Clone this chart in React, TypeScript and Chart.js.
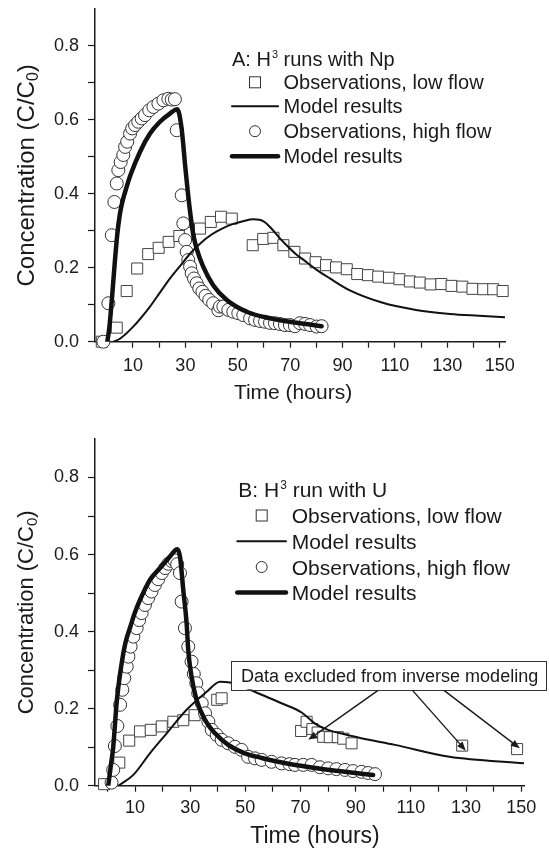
import React, { useEffect, useRef } from "react";
import { Chart, registerables } from "chart.js";

Chart.register(...registerables);

const FONT = '"Liberation Sans", Arial, Helvetica, sans-serif';
const INK = "#1a1a1a";

// ---------- shared ticks / labels ----------
const X_TICKS = [0, 10, 20, 30, 40, 50, 60, 70, 80, 90, 100, 110, 120, 130, 140, 150];
const X_LABELED = [10, 30, 50, 70, 90, 110, 130, 150];
const Y_TICKS = [0, 0.1, 0.2, 0.3, 0.4, 0.5, 0.6, 0.7, 0.8];
const Y_LABELED = [0, 0.2, 0.4, 0.6, 0.8];
const LEGEND_LABELS = ["Observations, low flow", "Model results", "Observations, high flow", "Model results"];
const X_TITLE = "Time (hours)";
const Y_TITLE_MAIN = "Concentration (C/C";
const Y_TITLE_SUB = "0";
const Y_TITLE_END = ")";

// ---------- panel A: H3 runs with Np ----------
const A_TITLE = ["A: H", "3", " runs with Np"];
const A_LOW_OBS_X = [-1.9, 3.8, 7.6, 11.6, 15.8, 19.8, 23.6, 27.7, 31.7, 35.6, 39.7, 43.6, 47.7, 55.7, 59.7, 63.6, 67.4, 71.6, 75.7, 79.7, 83.7, 87.5, 91.6, 95.6, 99.7, 103.6, 107.7, 111.7, 115.7, 119.5, 123.6, 127.7, 131.6, 135.7, 139.6, 143.7, 147.5, 151.1];
const A_LOW_OBS_Y = [0.0, 0.038, 0.137, 0.198, 0.237, 0.254, 0.27, 0.286, 0.295, 0.306, 0.324, 0.338, 0.333, 0.261, 0.278, 0.281, 0.261, 0.243, 0.225, 0.215, 0.207, 0.201, 0.196, 0.183, 0.18, 0.176, 0.173, 0.169, 0.163, 0.16, 0.155, 0.156, 0.151, 0.149, 0.143, 0.142, 0.142, 0.137];
const A_LOW_MOD_X = [2.5, 5, 10, 16.5, 20, 24, 28, 32, 36, 40, 44, 48, 52, 56, 60, 63, 66, 69, 72, 75, 80, 85, 93, 105, 118, 131, 142, 152];
const A_LOW_MOD_Y = [0, 0.008, 0.04, 0.095, 0.13, 0.17, 0.205, 0.24, 0.268, 0.29, 0.306, 0.318, 0.326, 0.331, 0.325, 0.305, 0.28, 0.258, 0.238, 0.222, 0.195, 0.172, 0.138, 0.106, 0.086, 0.075, 0.07, 0.066];
const A_HIGH_OBS_X = [-1.3, 0.6, 1.9, 2.9, 3.8, 4.4, 5.3, 6.3, 7.0, 7.8, 8.9, 9.7, 10.8, 12.0, 13.3, 14.6, 16.2, 17.8, 19.7, 21.6, 23.5, 24.8, 26.0, 26.7, 28.6, 29.2, 29.9, 30.5, 31.1, 31.8, 32.4, 33.3, 34.3, 35.3, 36.5, 37.7, 39.1, 40.6, 42.6, 43.2, 44.5, 46.4, 48.3, 50.2, 52.1, 54.7, 56.6, 58.5, 60.4, 62.3, 64.2, 66.1, 68.0, 69.9, 71.8, 73.7, 75.7, 77.6, 80.1, 82.0];
const A_HIGH_OBS_Y = [0, 0.104, 0.288, 0.378, 0.428, 0.464, 0.486, 0.505, 0.527, 0.541, 0.563, 0.577, 0.586, 0.595, 0.604, 0.613, 0.626, 0.635, 0.644, 0.653, 0.657, 0.655, 0.656, 0.572, 0.396, 0.32, 0.275, 0.243, 0.221, 0.203, 0.185, 0.171, 0.158, 0.144, 0.135, 0.124, 0.113, 0.104, 0.085, 0.095, 0.095, 0.086, 0.081, 0.077, 0.072, 0.063, 0.059, 0.056, 0.054, 0.051, 0.05, 0.048, 0.045, 0.045, 0.042, 0.05, 0.048, 0.045, 0.041, 0.042];
const A_HIGH_MOD_X = [0.2, 1, 2, 3, 4, 5, 6, 7, 9, 12.7, 16.5, 20.3, 24.1, 26.9, 28.5, 30, 31, 32, 33, 34.3, 36.8, 40.6, 45.8, 53.4, 62.3, 72.5, 82];
const A_HIGH_MOD_Y = [0, 0.04, 0.12, 0.21, 0.29, 0.345, 0.38, 0.405, 0.45, 0.514, 0.563, 0.595, 0.617, 0.629, 0.58, 0.47, 0.4, 0.34, 0.29, 0.252, 0.203, 0.153, 0.113, 0.081, 0.063, 0.051, 0.042];

// ---------- panel B: H3 run with U ----------
const B_TITLE = ["B: H", "3", " run with U"];
const B_LOW_OBS_X = [-1.2, 4.3, 7.9, 11.8, 15.7, 19.7, 23.9, 27.5, 31.6, 39.8, 41.4, 70.2, 72.2, 74.3, 76.2, 78.2, 80.6, 83.5, 85.5, 88.5, 128.6, 148.5];
const B_LOW_OBS_Y = [0.004, 0.06, 0.117, 0.141, 0.145, 0.154, 0.166, 0.17, 0.183, 0.223, 0.227, 0.142, 0.166, 0.147, 0.138, 0.127, 0.126, 0.126, 0.122, 0.11, 0.104, 0.095];
const B_LOW_MOD_X = [4, 9.4, 15.4, 21.5, 28.7, 36, 40.8, 44.4, 51.7, 55.9, 63.1, 70.4, 75.5, 80, 88, 92, 104.2, 124, 151];
const B_LOW_MOD_Y = [0, 0.028, 0.084, 0.136, 0.197, 0.244, 0.27, 0.268, 0.249, 0.236, 0.214, 0.19, 0.16, 0.145, 0.13, 0.123, 0.106, 0.075, 0.058];
const B_HIGH_OBS_X = [1.5, 2.1, 2.7, 3.6, 4.6, 5.4, 6.1, 7.0, 7.6, 8.4, 9.4, 10.6, 11.5, 12.4, 13.6, 14.8, 16.0, 17.2, 18.4, 19.7, 20.9, 22.1, 23.3, 24.3, 25.3, 26.3, 26.9, 28.1, 29.3, 30.5, 31.3, 32.2, 32.9, 34.2, 35.4, 36.6, 37.8, 39.6, 41.4, 43.8, 46.2, 48.6, 51.0, 53.5, 55.9, 59.5, 63.1, 66.0, 68.0, 71.0, 74.0, 77.0, 80.0, 83.0, 86.1, 89.0, 92.1, 94.5, 97.0];
const B_HIGH_OBS_Y = [0.008, 0.041, 0.103, 0.155, 0.21, 0.249, 0.279, 0.309, 0.335, 0.361, 0.387, 0.409, 0.43, 0.448, 0.469, 0.487, 0.504, 0.521, 0.536, 0.552, 0.565, 0.576, 0.583, 0.585, 0.575, 0.552, 0.478, 0.409, 0.361, 0.322, 0.29, 0.266, 0.24, 0.214, 0.188, 0.166, 0.145, 0.132, 0.119, 0.11, 0.101, 0.093, 0.075, 0.071, 0.067, 0.062, 0.058, 0.056, 0.054, 0.054, 0.054, 0.048, 0.045, 0.043, 0.041, 0.038, 0.036, 0.033, 0.03];
const B_HIGH_MOD_X = [0.3, 1.2, 2.1, 3.4, 5, 6.5, 8.2, 10, 11.8, 15.4, 19.1, 22.7, 25.3, 26.3, 27.5, 28.7, 29.3, 30.5, 32.3, 35.4, 39, 43.8, 49.8, 55.9, 61.9, 74, 86.1, 96.3];
const B_HIGH_MOD_Y = [0, 0.05, 0.1, 0.22, 0.31, 0.37, 0.41, 0.45, 0.482, 0.534, 0.565, 0.595, 0.614, 0.595, 0.508, 0.422, 0.352, 0.283, 0.223, 0.171, 0.136, 0.106, 0.084, 0.072, 0.062, 0.047, 0.036, 0.028];

// annotation (panel B), in data units
const B_NOTE_TEXT = "Data excluded from inverse modeling";
const B_NOTE_BOX = { x0: 44.8, x1: 158.9, y0: 0.25, y1: 0.324 };
const B_ARROW_FROM_X = [98.1, 110.6, 122.0];
const B_ARROW_TO_X = [72.8, 129.9, 149.5];
const B_ARROW_TO_Y = [0.119, 0.091, 0.097];

const pts = (xs: number[], ys: number[]) => xs.map((x, i) => ({ x, y: ys[i] }));

type Spec = {
  height: number;
  padTop: number;
  padRight: number;
  xAxisHeight: number;
  xMin: number;
  xMax: number;
  xTickPad: number;
  xTitle: { x: number; y: number; size: number };
  yTitle: { x: number; size: number };
  legend: {
    title: string[];
    size: number;
    titleX: number;
    titleY: number;
    rowsY: number[];
    markerX: number;
    lineX0: number;
    lineX1: number;
    textX: number;
  };
  lowObs: { x: number; y: number }[];
  lowMod: { x: number; y: number }[];
  highObs: { x: number; y: number }[];
  highMod: { x: number; y: number }[];
  note?: boolean;
};

const SPEC_A: Spec = {
  height: 415,
  padTop: 9,
  padRight: 44,
  xAxisHeight: 415 - 341.7,
  xMin: -4.5,
  xMax: 152,
  xTickPad: 8,
  xTitle: { x: 293, y: 393, size: 21 },
  yTitle: { x: 34, size: 24 },
  legend: {
    title: A_TITLE,
    size: 20,
    titleX: 232,
    titleY: 58.5,
    rowsY: [82.3, 106.3, 131.2, 156.3],
    markerX: 255,
    lineX0: 232,
    lineX1: 278,
    textX: 283.5,
  },
  lowObs: pts(A_LOW_OBS_X, A_LOW_OBS_Y),
  lowMod: pts(A_LOW_MOD_X, A_LOW_MOD_Y),
  highObs: pts(A_HIGH_OBS_X, A_HIGH_OBS_Y),
  highMod: pts(A_HIGH_MOD_X, A_HIGH_MOD_Y),
};

const SPEC_B: Spec = {
  height: 437,
  padTop: 24,
  padRight: 25,
  xAxisHeight: 437 - (785.7 - 415),
  xMin: -4.5,
  xMax: 151,
  xTickPad: 6,
  xTitle: { x: 315, y: 837 - 415, size: 23 },
  yTitle: { x: 33, size: 22 },
  legend: {
    title: B_TITLE,
    size: 21,
    titleX: 238.3,
    titleY: 489.2 - 415,
    rowsY: [515.5 - 415, 541.3 - 415, 567 - 415, 592.5 - 415],
    markerX: 261.7,
    lineX0: 237.3,
    lineX1: 286,
    textX: 291.7,
  },
  lowObs: pts(B_LOW_OBS_X, B_LOW_OBS_Y),
  lowMod: pts(B_LOW_MOD_X, B_LOW_MOD_Y),
  highObs: pts(B_HIGH_OBS_X, B_HIGH_OBS_Y),
  highMod: pts(B_HIGH_MOD_X, B_HIGH_MOD_Y),
  note: true,
};

function drawArrow(ctx: CanvasRenderingContext2D, x0: number, y0: number, x1: number, y1: number) {
  const ang = Math.atan2(y1 - y0, x1 - x0);
  const head = 9;
  const half = 3.5;
  const bx = x1 - head * Math.cos(ang);
  const by = y1 - head * Math.sin(ang);
  ctx.beginPath();
  ctx.moveTo(x0, y0);
  ctx.lineTo(bx, by);
  ctx.stroke();
  ctx.beginPath();
  ctx.moveTo(x1, y1);
  ctx.lineTo(bx - half * Math.sin(ang), by + half * Math.cos(ang));
  ctx.lineTo(bx + half * Math.sin(ang), by - half * Math.cos(ang));
  ctx.closePath();
  ctx.fill();
}

function makeDecorPlugin(S: Spec) {
  return {
    id: "decor",
    afterDatasetsDraw(chart: any) {
      const ctx: CanvasRenderingContext2D = chart.ctx;
      const xs = chart.scales.x;
      const ys = chart.scales.y;
      const area = chart.chartArea;
      ctx.save();
      ctx.fillStyle = INK;
      ctx.strokeStyle = INK;

      // annotation box + arrows
      if (S.note) {
        const bx0 = xs.getPixelForValue(B_NOTE_BOX.x0);
        const bx1 = xs.getPixelForValue(B_NOTE_BOX.x1);
        const by0 = ys.getPixelForValue(B_NOTE_BOX.y1);
        const by1 = ys.getPixelForValue(B_NOTE_BOX.y0);
        ctx.fillStyle = "#fff";
        ctx.fillRect(bx0, by0, bx1 - bx0, by1 - by0);
        ctx.lineWidth = 1;
        ctx.strokeStyle = "#333";
        ctx.strokeRect(Math.round(bx0) + 0.5, Math.round(by0) + 0.5, Math.round(bx1 - bx0), Math.round(by1 - by0));
        ctx.fillStyle = INK;
        ctx.font = `18px ${FONT}`;
        ctx.textAlign = "left";
        ctx.textBaseline = "alphabetic";
        ctx.fillText(B_NOTE_TEXT, bx0 + 10, (by0 + by1) / 2 + 6.5);
        ctx.strokeStyle = INK;
        ctx.lineWidth = 1.4;
        B_ARROW_FROM_X.forEach((fx, i) => {
          drawArrow(
            ctx,
            xs.getPixelForValue(fx),
            by1 + 1,
            xs.getPixelForValue(B_ARROW_TO_X[i]),
            ys.getPixelForValue(B_ARROW_TO_Y[i])
          );
        });
      }

      // legend
      const L = S.legend;
      ctx.fillStyle = INK;
      ctx.textAlign = "left";
      ctx.textBaseline = "alphabetic";
      const base = (c: number) => c + L.size * 0.358;
      ctx.font = `${L.size}px ${FONT}`;
      let tx = L.titleX;
      ctx.fillText(L.title[0], tx, base(L.titleY));
      tx += ctx.measureText(L.title[0]).width + 1;
      ctx.font = `${Math.round(L.size * 0.55)}px ${FONT}`;
      ctx.fillText(L.title[1], tx, base(L.titleY) - 8);
      tx += ctx.measureText(L.title[1]).width;
      ctx.font = `${L.size}px ${FONT}`;
      ctx.fillText(L.title[2], tx, base(L.titleY));

      LEGEND_LABELS.forEach((lab, i) => {
        const cy = L.rowsY[i];
        ctx.fillStyle = INK;
        ctx.fillText(lab, L.textX, base(cy));
        if (i === 0) {
          ctx.fillStyle = "#fff";
          ctx.strokeStyle = "#333";
          ctx.lineWidth = 1;
          ctx.fillRect(L.markerX - 5.5, cy - 5.5, 11, 11);
          ctx.strokeRect(L.markerX - 5.5, cy - 5.5, 11, 11);
        } else if (i === 2) {
          ctx.fillStyle = "#fff";
          ctx.strokeStyle = "#333";
          ctx.lineWidth = 1;
          ctx.beginPath();
          ctx.arc(L.markerX, cy, 5.5, 0, Math.PI * 2);
          ctx.fill();
          ctx.stroke();
        } else {
          ctx.strokeStyle = "#111";
          ctx.lineWidth = i === 1 ? 2 : 4.5;
          ctx.lineCap = "round";
          ctx.beginPath();
          ctx.moveTo(L.lineX0, cy);
          ctx.lineTo(L.lineX1, cy);
          ctx.stroke();
          ctx.lineCap = "butt";
        }
      });

      // x title
      ctx.fillStyle = INK;
      ctx.font = `${S.xTitle.size}px ${FONT}`;
      ctx.textAlign = "center";
      ctx.textBaseline = "middle";
      ctx.fillText(X_TITLE, S.xTitle.x, S.xTitle.y);

      // y title (rotated, with subscript)
      const cy = (area.top + area.bottom) / 2;
      ctx.translate(S.yTitle.x, cy);
      ctx.rotate(-Math.PI / 2);
      ctx.textAlign = "left";
      ctx.textBaseline = "alphabetic";
      const big = `${S.yTitle.size}px ${FONT}`;
      const small = `${Math.round(S.yTitle.size * 0.68)}px ${FONT}`;
      ctx.font = big;
      const w1 = ctx.measureText(Y_TITLE_MAIN).width;
      const w3 = ctx.measureText(Y_TITLE_END).width;
      ctx.font = small;
      const w2 = ctx.measureText(Y_TITLE_SUB).width;
      let px = -(w1 + w2 + w3) / 2;
      ctx.font = big;
      ctx.fillText(Y_TITLE_MAIN, px, 0);
      px += w1;
      ctx.font = small;
      ctx.fillText(Y_TITLE_SUB, px, 4);
      px += w2;
      ctx.font = big;
      ctx.fillText(Y_TITLE_END, px, 0);
      ctx.restore();
    },
  };
}

function makeConfig(S: Spec): any {
  return {
    type: "scatter",
    data: {
      datasets: [
        {
          label: "Model results (high flow)",
          data: S.highMod,
          showLine: true,
          borderColor: "#111",
          backgroundColor: "#111",
          borderWidth: 4.5,
          pointRadius: 0,
          cubicInterpolationMode: "monotone",
          borderJoinStyle: "round",
          borderCapStyle: "round",
        },
        {
          label: "Model results (low flow)",
          data: S.lowMod,
          showLine: true,
          borderColor: "#111",
          backgroundColor: "#111",
          borderWidth: 2,
          pointRadius: 0,
          cubicInterpolationMode: "monotone",
          borderJoinStyle: "round",
        },
        {
          label: "Observations, high flow",
          data: S.highObs,
          showLine: false,
          pointStyle: "circle",
          pointRadius: 6.5,
          pointBackgroundColor: "#fff",
          pointBorderColor: "#333",
          pointBorderWidth: 1,
          backgroundColor: "#fff",
          borderColor: "#333",
          clip: false,
        },
        {
          label: "Observations, low flow",
          data: S.lowObs,
          showLine: false,
          pointStyle: "rect",
          pointRadius: 7.8,
          pointBackgroundColor: "#fff",
          pointBorderColor: "#444",
          pointBorderWidth: 1,
          backgroundColor: "#fff",
          borderColor: "#444",
          clip: false,
        },
      ],
    },
    options: {
      animation: false,
      responsive: false,
      maintainAspectRatio: false,
      devicePixelRatio: 1,
      events: [],
      layout: { padding: { left: 0, top: S.padTop, right: S.padRight, bottom: 0 } },
      plugins: { legend: { display: false }, tooltip: { enabled: false }, title: { display: false } },
      scales: {
        x: {
          type: "linear",
          min: S.xMin,
          max: S.xMax,
          afterBuildTicks: (s: any) => {
            s.ticks = X_TICKS.map((v) => ({ value: v }));
          },
          afterFit: (s: any) => {
            s.height = S.xAxisHeight;
            s.paddingLeft = 0;
            s.paddingRight = 0;
          },
          ticks: {
            autoSkip: false,
            maxRotation: 0,
            minRotation: 0,
            padding: S.xTickPad,
            color: INK,
            font: { family: FONT, size: 18 },
            callback: (v: number) => (X_LABELED.includes(v) ? String(v) : ""),
          },
          grid: { drawOnChartArea: false, drawTicks: true, tickLength: 6, tickColor: INK, tickWidth: 1.2 },
          border: { display: true, color: INK, width: 1.5 },
        },
        y: {
          type: "linear",
          min: 0,
          max: 0.9,
          afterBuildTicks: (s: any) => {
            s.ticks = Y_TICKS.map((v) => ({ value: v }));
          },
          afterFit: (s: any) => {
            s.width = 95;
            s.paddingTop = 0;
            s.paddingBottom = 0;
          },
          ticks: {
            autoSkip: false,
            padding: 9,
            color: INK,
            font: { family: FONT, size: 18 },
            callback: (v: number) => (Y_LABELED.some((t) => Math.abs(t - v) < 1e-6) ? v.toFixed(1) : ""),
          },
          grid: { drawOnChartArea: false, drawTicks: true, tickLength: 7, tickColor: INK, tickWidth: 1.2 },
          border: { display: true, color: INK, width: 1.5 },
        },
      },
    },
    plugins: [makeDecorPlugin(S)],
  };
}

function Panel({ spec, top }: { spec: Spec; top: number }) {
  const ref = useRef<HTMLCanvasElement | null>(null);
  useEffect(() => {
    if (!ref.current) return;
    const chart = new Chart(ref.current, makeConfig(spec));
    return () => chart.destroy();
  }, [spec]);
  return (
    <canvas
      ref={ref}
      width={549}
      height={spec.height}
      style={{ position: "absolute", left: 0, top, width: 549, height: spec.height, display: "block" }}
    />
  );
}

export default function App() {
  return (
    <div style={{ position: "absolute", left: 0, top: 0, width: 549, height: 852, background: "#fff", overflow: "hidden" }}>
      <Panel spec={SPEC_A} top={0} />
      <Panel spec={SPEC_B} top={415} />
    </div>
  );
}
